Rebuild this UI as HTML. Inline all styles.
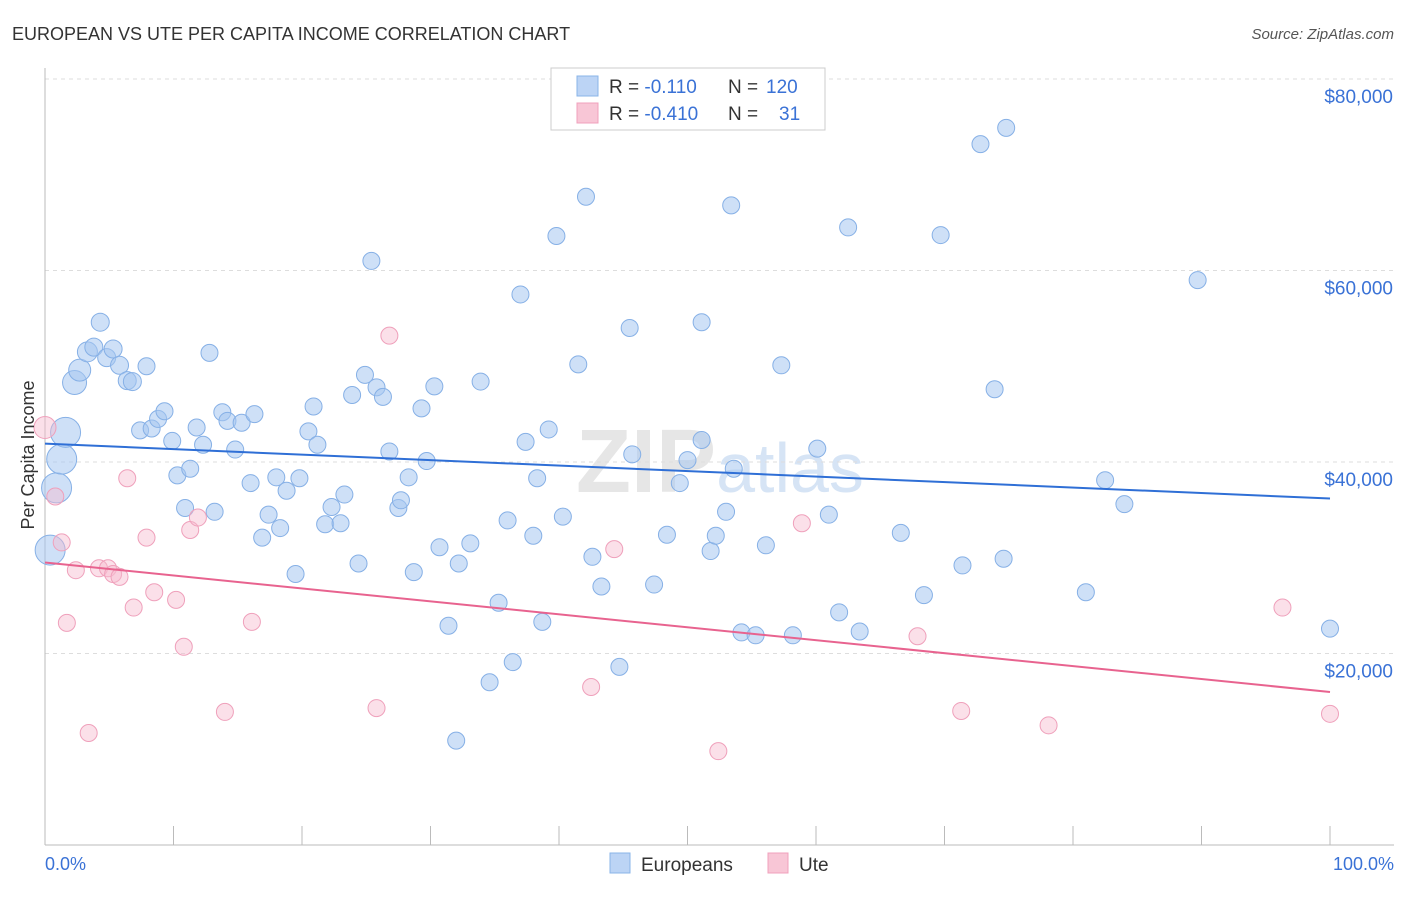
<!DOCTYPE html>
<html><head><meta charset="utf-8"><style>
body{margin:0;background:#fff;font-family:"Liberation Sans",sans-serif}
svg text{font-family:"Liberation Sans",sans-serif}
</style></head><body>
<svg id="c" width="1406" height="892" viewBox="0 0 1406 892">
<text x="12" y="40" font-size="18" fill="#333">EUROPEAN VS UTE PER CAPITA INCOME CORRELATION CHART</text>
<text x="1394" y="39" font-size="15" fill="#555" text-anchor="end" font-style="italic">Source: ZipAtlas.com</text>
<text x="720" y="492" font-size="90" fill="#e6e6e6" text-anchor="middle" font-weight="bold" font-family="Liberation Serif">ZIP<tspan fill="#d6e4f5" font-family="Liberation Sans" font-weight="normal" font-size="70">atlas</tspan></text>
<g id="grid"></g>
<g id="pts"></g>
<text transform="translate(34,455) rotate(-90)" font-size="18" fill="#333" text-anchor="middle">Per Capita Income</text>
<text x="45" y="870" font-size="18" fill="#3a72d6">0.0%</text>
<text x="1394" y="870" font-size="18" fill="#3a72d6" text-anchor="end">100.0%</text>
<g>
<rect x="610" y="853" width="20" height="20" fill="#bcd4f5" stroke="#8ab4e8"/>
<text x="641" y="871" font-size="19" fill="#333">Europeans</text>
<rect x="768" y="853" width="20" height="20" fill="#f8c6d6" stroke="#f0a0bc"/>
<text x="799" y="871" font-size="19" fill="#333">Ute</text>
</g>
<g>
<rect x="551" y="68" width="274" height="62" fill="#fff" stroke="#ccc"/>
<rect x="577" y="76" width="21" height="20" fill="#bcd4f5" stroke="#8ab4e8"/>
<rect x="577" y="103" width="21" height="20" fill="#f8c6d6" stroke="#f0a0bc"/>
<text x="609" y="93" font-size="19" fill="#333">R = <tspan fill="#3a72d6">-0.110</tspan><tspan x="728">N = </tspan><tspan fill="#3a72d6" x="766">120</tspan></text>
<text x="609" y="120" font-size="19" fill="#333">R = <tspan fill="#3a72d6">-0.410</tspan><tspan x="728">N = </tspan><tspan fill="#3a72d6" x="779">31</tspan></text>
</g>
</svg>
<script>
const yTicks=[20000,40000,60000,80000];
const yTickLabels=["$20,000","$40,000","$60,000","$80,000"];
const euroX=[0.4,0.9,1.3,1.6,2.3,2.7,3.3,3.8,4.3,4.8,5.3,5.8,6.4,6.8,7.9,7.4,8.3,8.8,9.3,9.9,10.3,10.9,11.3,11.8,12.3,12.8,13.2,13.8,14.2,14.8,15.3,16.0,16.3,16.9,17.4,18.0,18.3,18.8,19.5,19.8,20.5,20.9,21.2,21.8,22.3,23.0,23.3,23.9,24.4,24.9,25.4,25.8,26.3,26.8,27.5,27.7,28.3,28.7,29.3,29.7,30.3,30.7,31.4,32.0,32.2,33.1,33.9,34.6,35.3,36.0,36.4,37.0,37.4,38.0,38.3,38.7,39.2,39.8,40.3,41.5,42.1,42.6,43.3,44.7,45.5,45.7,47.4,48.4,49.4,50.0,51.1,51.1,51.8,52.2,53.0,53.4,53.6,54.2,55.3,56.1,57.3,58.2,60.1,61.0,61.8,62.5,63.4,66.6,68.4,69.7,71.4,72.8,73.9,74.6,74.8,81.0,82.5,84.0,89.7,100];
const euroY=[30.8,37.3,40.3,43.1,48.3,49.6,51.5,52.0,54.6,50.9,51.8,50.1,48.5,48.4,50.0,43.3,43.5,44.5,45.3,42.2,38.6,35.2,39.3,43.6,41.8,51.4,34.8,45.2,44.3,41.3,44.1,37.8,45.0,32.1,34.5,38.4,33.1,37.0,28.3,38.3,43.2,45.8,41.8,33.5,35.3,33.6,36.6,47.0,29.4,49.1,61.0,47.8,46.8,41.1,35.2,36.0,38.4,28.5,45.6,40.1,47.9,31.1,22.9,10.9,29.4,31.5,48.4,17.0,25.3,33.9,19.1,57.5,42.1,32.3,38.3,23.3,43.4,63.6,34.3,50.2,67.7,30.1,27.0,18.6,54.0,40.8,27.2,32.4,37.8,40.2,42.3,54.6,30.7,32.3,34.8,66.8,39.3,22.2,21.9,31.3,50.1,21.9,41.4,34.5,24.3,64.5,22.3,32.6,26.1,63.7,29.2,73.2,47.6,29.9,74.9,26.4,38.1,35.6,59.0,22.6].map(v=>v*1000);
const euroBig=[15,15,15,15,12,11,10,9,9,9,9,9,9,9];
const uteX=[0,0.8,1.3,1.7,2.4,3.4,4.2,4.9,5.3,5.8,6.4,6.9,7.9,8.5,10.2,10.8,11.3,11.9,14.0,16.1,25.8,26.8,42.5,44.3,52.4,58.9,67.9,71.3,78.1,96.3,100];
const uteY=[43.6,36.4,31.6,23.2,28.7,11.7,28.9,28.9,28.3,28.0,38.3,24.8,32.1,26.4,25.6,20.7,32.9,34.2,13.9,23.3,14.3,53.2,16.5,30.9,9.8,33.6,21.8,14.0,12.5,24.8,13.7].map(v=>v*1000);
const X0=45,X1=1330,Y0=845,PXPER=191.5/20000;
const sx=p=>X0+(X1-X0)*p/100, sy=v=>Y0-v*PXPER;
const NS="http://www.w3.org/2000/svg";
function mk(t,a,parent){const e=document.createElementNS(NS,t);for(const k in a)e.setAttribute(k,a[k]);parent.appendChild(e);return e;}
const grid=document.getElementById('grid'),pts=document.getElementById('pts'),svg=document.getElementById('c');
yTicks.forEach((t,i)=>{
 const l=mk('line',{x1:45,x2:1394,y1:sy(t),y2:sy(t),stroke:'#ddd','stroke-dasharray':'4,4'},grid);
 
 
 const tx=mk('text',{x:1393,y:sy(t)+24,'font-size':19,fill:'#3a72d6','text-anchor':'end'},grid);
 tx.textContent=yTickLabels[i];
 
 
});
const topLine=mk('line',{x1:45,x2:1394,y1:79,y2:79,stroke:'#ddd','stroke-dasharray':'4,4'},grid);


const ya=mk('line',{x1:45,x2:45,y1:68,y2:845,stroke:'#bbb'},grid);


const xa=mk('line',{x1:45,x2:1394,y1:845,y2:845,stroke:'#bbb'},grid);


for(let i=0;i<=10;i++){
 const t=mk('line',{x1:sx(i*10),x2:sx(i*10),y1:826,y2:845,stroke:'#bbb'},grid);
 
 
}
function reg(xs,ys){const n=xs.length;let mx=0,my=0;xs.forEach((x,i)=>{mx+=x;my+=ys[i];});mx/=n;my/=n;let sxy=0,sxx=0;xs.forEach((x,i)=>{sxy+=(x-mx)*(ys[i]-my);sxx+=(x-mx)**2;});const b=sxy/sxx;return [my-b*mx,b];}
euroX.forEach((x,i)=>{
 const c=mk('circle',{cx:sx(x),cy:sy(euroY[i]),r:euroBig[i]||8.5,fill:'rgba(165,198,240,0.55)',stroke:'#86b0e6','stroke-width':1},pts);
 
 
});
uteX.forEach((x,i)=>{
 const c=mk('circle',{cx:sx(x),cy:sy(uteY[i]),r:i==0?11:8.5,fill:'rgba(246,186,206,0.45)',stroke:'#efa0bb','stroke-width':1},pts);
 
 
});
let [a,b]=reg(euroX,euroY);
const bl=mk('line',{x1:sx(0),y1:sy(a),x2:sx(100),y2:sy(a+100*b),stroke:'#2f6fd6','stroke-width':2},pts);


[a,b]=reg(uteX,uteY);
const pl=mk('line',{x1:sx(0),y1:sy(a),x2:sx(100),y2:sy(a+100*b),stroke:'#e8638f','stroke-width':2},pts);


</script>
</body></html>
